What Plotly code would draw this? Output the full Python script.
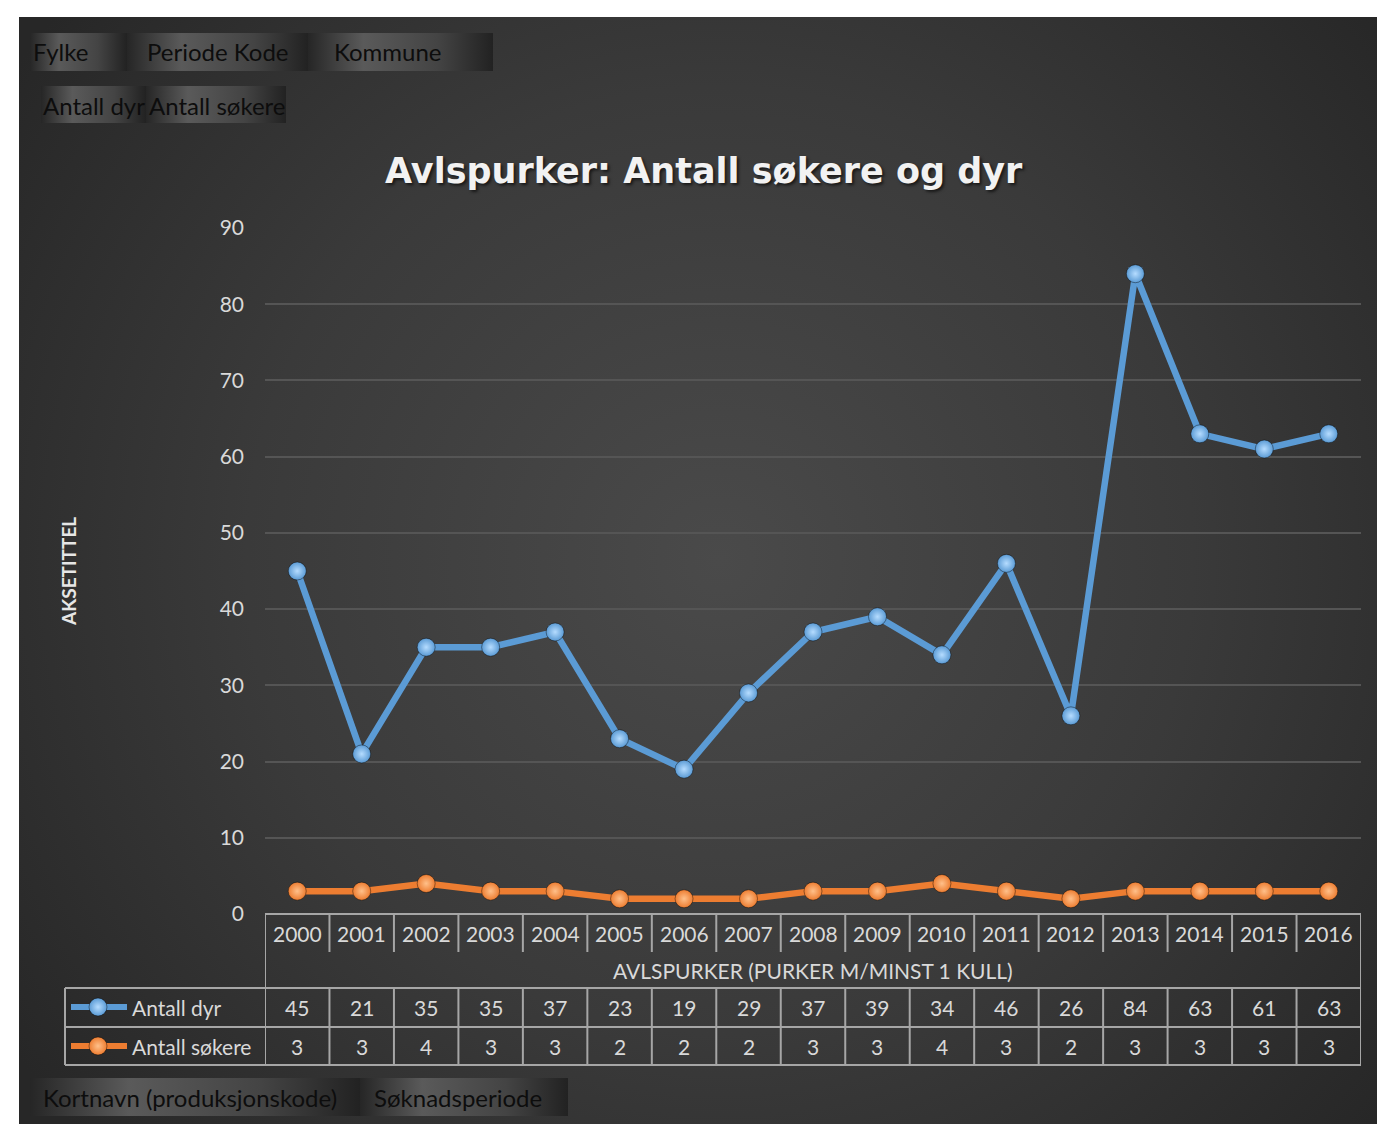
import base64
import plotly.graph_objects as go

# ---------------- data ----------------
years = ["2000", "2001", "2002", "2003", "2004", "2005", "2006", "2007", "2008",
         "2009", "2010", "2011", "2012", "2013", "2014", "2015", "2016"]
antall_dyr = [45, 21, 35, 35, 37, 23, 19, 29, 37, 39, 34, 46, 26, 84, 63, 61, 63]
antall_sokere = [3, 3, 4, 3, 3, 2, 2, 2, 3, 3, 4, 3, 2, 3, 3, 3, 3]
series_names = ["Antall dyr", "Antall søkere"]
category_title = "AVLSPURKER (PURKER M/MINST 1 KULL)"
chart_title = "Avlspurker: Antall søkere og dyr"

W, H = 1377, 1124
FONT = "Lato"
TXT = "#d9d9d9"
GRIDC = "#a6a6a6"
BLUE, ORANGE = "#5B9BD5", "#ED7D31"


def fx(p):
    return p / W


def fy(p):
    return 1 - p / H


# plot area in pixels
PL, PR, PT, PB = 265, 1361, 228, 914

# ---------------- background (gradient) as svg image ----------------
buttons = [(30, 127, 33, 71), (127, 308, 33, 71), (308, 493, 33, 71),
           (41, 146, 86, 123), (146, 286, 86, 123),
           (30, 360, 1078, 1116), (360, 568, 1078, 1116)]
btn_svg = "".join(
    f'<rect x="{a}" y="{c}" width="{b - a}" height="{d - c}" fill="url(#btn)"/>'
    for a, b, c, d in buttons)
svg = f'''<svg xmlns="http://www.w3.org/2000/svg" width="{W}" height="{H}" viewBox="0 0 {W} {H}" preserveAspectRatio="none">
<defs>
<radialGradient id="bg" cx="720" cy="560" r="860" gradientUnits="userSpaceOnUse">
<stop offset="0" stop-color="#4a4a4a"/><stop offset="0.55" stop-color="#3a3a3a"/><stop offset="1" stop-color="#272727"/>
</radialGradient>
<linearGradient id="btn" x1="0" x2="1" y1="0" y2="0">
<stop offset="0" stop-color="#262626"/><stop offset="0.3" stop-color="#5a5a5a"/><stop offset="0.7" stop-color="#444444"/><stop offset="1" stop-color="#222222"/>
</linearGradient>
</defs>
<rect x="19" y="17" width="{W - 19}" height="{H - 17}" fill="url(#bg)"/>
{btn_svg}
</svg>'''
bg_src = "data:image/svg+xml;base64," + base64.b64encode(svg.encode("utf-8")).decode()

idx = list(range(len(years)))

fig = go.Figure()
for name, vals, col, hi in [(series_names[0], antall_dyr, BLUE, "#b5dcff"),
                            (series_names[1], antall_sokere, ORANGE, "#ffc08a")]:
    fig.add_trace(go.Scatter(
        x=idx, y=vals, name=name, mode="lines+markers",
        line=dict(color=col, width=6.5),
        marker=dict(size=18, color=col, line=dict(color="rgba(0,0,0,0.4)", width=1),
                    gradient=dict(type="radial", color=hi)),
        showlegend=False))

# legend keys inside the data table (pixel-space overlay axes)
for name, col, hi, ypx in [(series_names[0], BLUE, "#b5dcff", 1007),
                           (series_names[1], ORANGE, "#ffc08a", 1046)]:
    fig.add_trace(go.Scatter(
        x=[71, 127], y=[ypx, ypx], xaxis="x2", yaxis="y2", mode="lines",
        line=dict(color=col, width=6), showlegend=False, hoverinfo="skip"))
    fig.add_trace(go.Scatter(
        x=[98], y=[ypx], xaxis="x2", yaxis="y2", mode="markers",
        marker=dict(size=18, color=col, line=dict(color="rgba(0,0,0,0.4)", width=1),
                    gradient=dict(type="radial", color=hi)),
        showlegend=False, hoverinfo="skip"))

shapes = []


def seg(x0, x1, y0, y1, xref="paper"):
    shapes.append(dict(type="line", xref=xref, yref="paper", x0=x0, x1=x1,
                       y0=fy(y0), y1=fy(y1), line=dict(color=GRIDC, width=2)))


n = len(years)
# table grid
seg(-0.5, n - 0.5, PB, PB, "x")
for i in range(n - 1):
    seg(i + 0.5, i + 0.5, PB, 952, "x")
    seg(i + 0.5, i + 0.5, 988, 1065, "x")
seg(-0.5, -0.5, PB, 1065, "x")
seg(n - 0.5, n - 0.5, PB, 1065, "x")
for yy in [988, 1027, 1065]:
    seg(-0.5, n - 0.5, yy, yy, "x")
    seg(fx(65), fx(PL), yy, yy)
seg(fx(65), fx(65), 988, 1065)

annotations = []


def txt(x, y, s, xref="paper", size=20, color=TXT, xanchor="center", bold=False,
        family=FONT, shadow="none", **kw):
    annotations.append(dict(x=x, y=fy(y), xref=xref, yref="paper", text=s, showarrow=False,
                            xanchor=xanchor, yanchor="middle",
                            font=dict(family=family, size=size, color=color, shadow=shadow,
                                      weight="bold" if bold else "normal"), **kw))


for i in idx:
    txt(i, 933, years[i], "x", size=21)
    txt(i, 1007, str(antall_dyr[i]), "x", size=21)
    txt(i, 1046, str(antall_sokere[i]), "x", size=21)
txt((n - 1) / 2, 970, category_title, "x", size=21)
txt(fx(130), 1007, series_names[0], xanchor="left", size=21)
txt(fx(130), 1046, series_names[1], xanchor="left", size=21)

# title and axis title
txt(fx(704), 171, chart_title, size=35, color="#f2f2f2", bold=True, family="DejaVu Sans",
    shadow="2px 2px 3px rgba(0,0,0,0.6)")
txt(fx(68), 572, "AKSETITTEL", size=19, color="#e6e6e6", bold=True, textangle=-90)

# field buttons
DARK = "#0d0d0d"
for s, x, y in [("Fylke", 31, 52), ("Periode Kode", 145, 52), ("Kommune", 332, 52),
                ("Antall dyr", 41, 105), ("Antall søkere", 147, 105),
                ("Kortnavn (produksjonskode)", 41, 1097), ("Søknadsperiode", 372, 1097)]:
    txt(fx(x), y, s, size=24, color=DARK, xanchor="left")

fig.update_layout(
    width=W, height=H,
    margin=dict(l=0, r=0, t=0, b=0, autoexpand=False),
    paper_bgcolor="white", plot_bgcolor="rgba(0,0,0,0)",
    images=[dict(source=bg_src, xref="paper", yref="paper", x=0, y=1, sizex=1, sizey=1,
                 sizing="stretch", xanchor="left", yanchor="top", layer="below")],
    xaxis=dict(domain=[fx(PL), fx(PR)], range=[-0.5, n - 0.5], showgrid=False,
               zeroline=False, showticklabels=False, showline=False, fixedrange=True),
    yaxis=dict(domain=[fy(PB), fy(PT)], range=[0, 90], dtick=10, showgrid=True,
               gridcolor="#555555", gridwidth=1.5, zeroline=False, showline=False,
               tickfont=dict(family=FONT, size=21, color=TXT), ticklabelstandoff=20,
               fixedrange=True),
    xaxis2=dict(domain=[0, 1], range=[0, W], visible=False, fixedrange=True, anchor="y2"),
    yaxis2=dict(domain=[0, 1], range=[H, 0], visible=False, fixedrange=True, anchor="x2"),
    shapes=shapes,
    annotations=annotations,
)

fig.write_html("out.html", config={"displayModeBar": False},
               post_script="document.body.style.margin='0';document.body.style.overflow='hidden';")
